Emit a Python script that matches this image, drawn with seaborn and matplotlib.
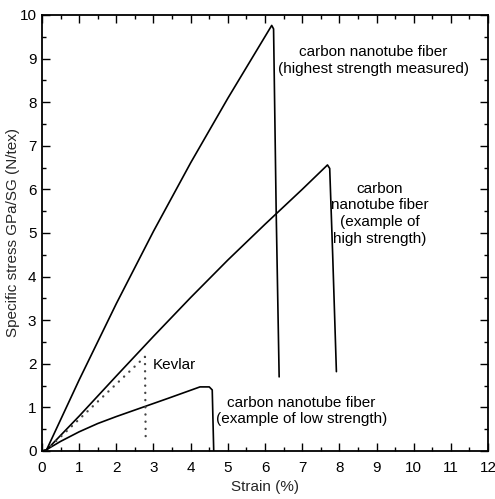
import matplotlib
matplotlib.use("Agg")
import matplotlib.pyplot as plt
from matplotlib.ticker import MultipleLocator
import seaborn as sns

# Stress-strain curves (strain in %, specific stress in N/tex)
strain_highest = [0.0, 0.12, 1.0, 2.0, 3.0, 4.0, 5.0, 6.18, 6.23, 6.3, 6.38]
stress_highest = [0.0, 0.02, 1.63, 3.38, 5.04, 6.61, 8.09, 9.76, 9.68, 5.5, 1.70]

strain_high = [0.0, 0.12, 1.0, 2.0, 3.0, 4.0, 5.0, 6.0, 7.0, 7.68, 7.74, 7.82, 7.92]
stress_high = [0.0, 0.02, 0.80, 1.72, 2.63, 3.52, 4.38, 5.20, 6.00, 6.56, 6.48, 4.5, 1.82]

strain_low = [0.0, 0.1, 0.5, 1.0, 1.5, 2.0, 2.6, 3.4, 4.25, 4.5, 4.58, 4.62]
stress_low = [0.0, 0.02, 0.22, 0.44, 0.63, 0.79, 0.97, 1.21, 1.47, 1.47, 1.40, 0.0]

strain_kevlar = [0.1, 2.77, 2.79]
stress_kevlar = [0.0, 2.16, 0.25]

x_ticks = list(range(0, 13))
y_ticks = list(range(0, 11))

sns.set_theme(style="ticks")
plt.rcParams["font.family"] = ["Liberation Sans", "DejaVu Sans"]

fig = plt.figure(figsize=(4.95, 4.99), dpi=100)
ax = fig.add_axes([0.0848, 0.0962, 0.9012, 0.8738])

line_kw = dict(sort=False, estimator=None, color="black", linewidth=1.2, ax=ax)
sns.lineplot(x=strain_highest, y=stress_highest, **line_kw)
sns.lineplot(x=strain_high, y=stress_high, **line_kw)
sns.lineplot(x=strain_low, y=stress_low, **line_kw)
sns.lineplot(x=strain_kevlar, y=stress_kevlar, sort=False, estimator=None,
             color="#444444", linewidth=1.7, linestyle=(0, (0.05, 3.0)),
             dash_capstyle="round", ax=ax)

ax.set_xlim(0, 12)
ax.set_ylim(0, 10)
ax.set_xticks(x_ticks)
ax.set_yticks(y_ticks)
ax.xaxis.set_minor_locator(MultipleLocator(0.5))
ax.yaxis.set_minor_locator(MultipleLocator(0.5))
ax.tick_params(which="both", direction="in", top=True, right=True,
               color="black", width=1.0, labelsize=11, labelcolor="black")
ax.tick_params(which="major", length=6)
ax.tick_params(which="minor", length=3)
ax.tick_params(axis="x", which="major", pad=7)
ax.tick_params(axis="y", which="major", pad=4)
for side in ax.spines.values():
    side.set_linewidth(1.3)
    side.set_color("black")

ax.set_xlabel("Strain (%)", fontsize=11, labelpad=4)
ax.set_ylabel("Specific stress GPa/SG (N/tex)", fontsize=11)
ax.yaxis.set_label_coords(-0.05, 0.5)

txt = dict(fontsize=11, color="black", linespacing=1.25)
ax.text(8.91, 8.95, "carbon nanotube fiber\n(highest strength measured)",
        ha="center", va="center", **txt)
ax.text(9.09, 5.44, "carbon\nnanotube fiber\n(example of\nhigh strength)",
        ha="center", va="center", **txt)
ax.text(2.97, 1.97, "Kevlar", ha="left", va="center", **txt)
ax.text(6.98, 0.92, "carbon nanotube fiber\n(example of low strength)",
        ha="center", va="center", **txt)

fig.savefig("out.png", dpi=100)
